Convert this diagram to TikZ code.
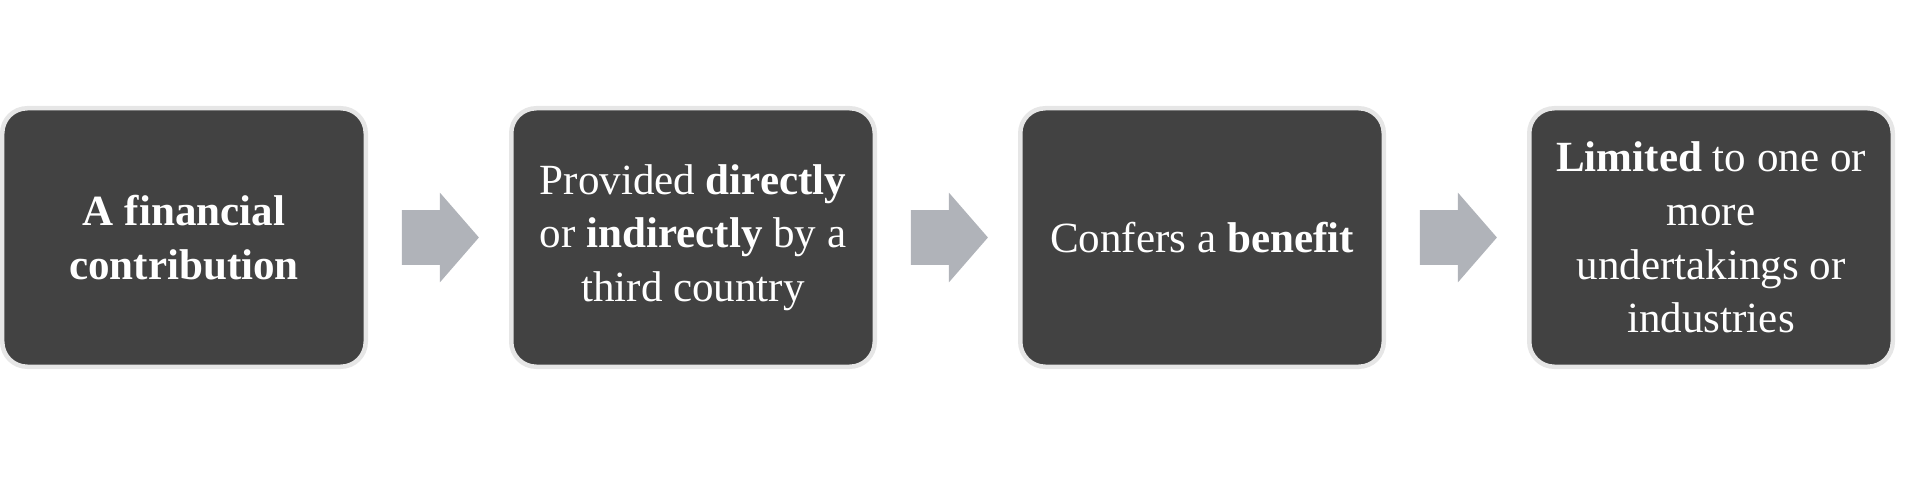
\documentclass[tikz,border=0pt]{standalone}
\usepackage{fontspec}
\setmainfont{Liberation Serif}
\usepackage{tikz}
\usetikzlibrary{positioning, shapes.arrows, calc}
\definecolor{boxgray}{HTML}{424242}
\definecolor{rimgray}{HTML}{E6E6E6}
\definecolor{arrowgray}{HTML}{B0B3B9}

\begin{document}
\begin{tikzpicture}[
    stage/.style={draw=rimgray, line width=0.09cm, fill=boxgray, rounded corners=0.5cm,
      minimum width=7.27cm, minimum height=5.17cm, text=white, align=center,
      font=\fontsize{24.5}{30.5}\selectfont},
    flowarrow/.style={single arrow, fill=arrowgray, draw=none, inner xsep=0pt, inner ysep=0.54cm,
      minimum height=1.54cm, single arrow head extend=0.35cm,
      single arrow tip angle=98}
  ]
    \useasboundingbox (0,0) rectangle (38.2,9.52);

    % the four tests
    \node[stage] (s1) at (3.68,4.77) {\textbf{A financial}\\\textbf{contribution}};
    \node[stage, right=2.82cm of s1] (s2) {Provided \textbf{directly}\\or \textbf{indirectly} by a\\third country};
    \node[stage, right=2.82cm of s2] (s3) {Confers a \textbf{benefit}};
    \node[stage, right=2.82cm of s3] (s4) {\textbf{Limited} to one or\\more\\undertakings or\\industries};

    % block arrows in the gaps
    \node[flowarrow, xshift=-0.2cm] (a1) at ($(s1.east)!0.5!(s2.west)$) {};
    \node[flowarrow, xshift=-0.2cm] (a2) at ($(s2.east)!0.5!(s3.west)$) {};
    \node[flowarrow, xshift=-0.2cm] (a3) at ($(s3.east)!0.5!(s4.west)$) {};
\end{tikzpicture}
\end{document}
